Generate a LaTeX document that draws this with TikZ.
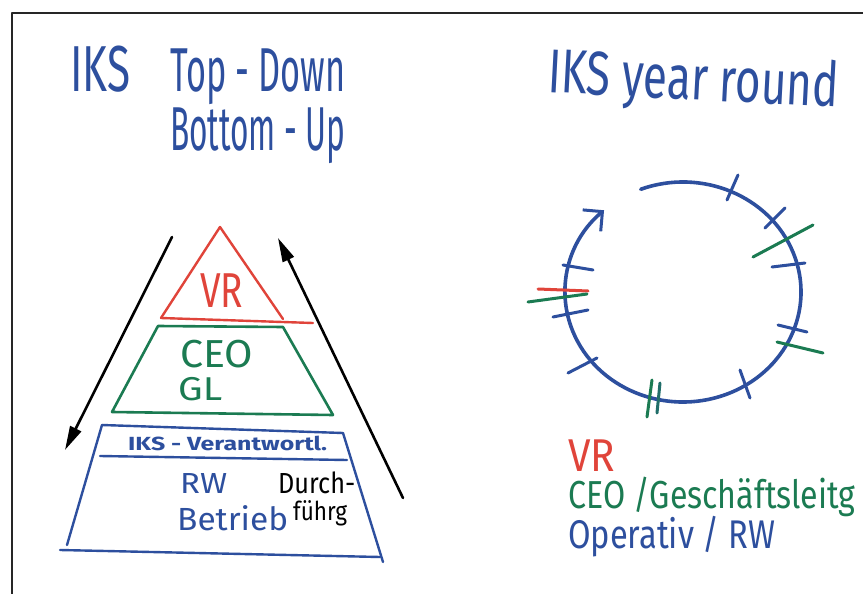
\documentclass[tikz,border=0pt]{standalone}
\usepackage{fontspec}
\setmainfont{Fira Sans}
\usepackage{graphicx}
\usetikzlibrary{arrows.meta}
\definecolor{pblue}{HTML}{2D4F9E}
\definecolor{pred}{HTML}{E0443A}
\definecolor{pgreen}{HTML}{1B7B52}
\newcommand\fitto[2]{\resizebox{#1pt}{\height}{#2}}
\begin{document}
\begin{tikzpicture}[x=1pt,y=-1pt, line cap=round, line join=round,
  txt/.style={inner sep=0pt, anchor=base west},
  fs/.style={font=\fontsize{#1}{#1}\selectfont},
  bpen/.style={pblue, line width=2.4pt},
  rpen/.style={pred, line width=2.4pt},
  gpen/.style={pgreen, line width=2.6pt},
  kpen/.style={black, line width=2.6pt, -{Triangle[length=24pt,width=12pt]}},
  tick/.style={line width=3pt}]
\useasboundingbox (0,0) rectangle (863,594);
\fill[white] (0,0) rectangle (863,594);
\draw[line width=2pt, black!85, line cap=butt] (12,594) -- (12,13) -- (863,13);

% titles
\node[txt, text=pblue, fs=65] (iksL) at (70,92) {\fitto{60}{IKS}};
\node[txt, text=pblue, fs=62] (td) at (170,92) {\fitto{175}{Top - Down}};
\node[txt, text=pblue, fs=62] (bu) at (170,150) {\fitto{175}{Bottom - Up}};
\node[txt, text=pblue, fs=62, rotate=-3] (iksR) at (547,92) {\fitto{291}{IKS year round}};

% pyramid
\coordinate (rA) at (220,227); \coordinate (rL) at (161,318);
\coordinate (rR) at (283,319); \coordinate (rE) at (313,323);
\draw[rpen] (rL) -- (rA) -- (rR);
\draw[rpen] (rL) -- (rE);
\coordinate (gTL) at (158,326); \coordinate (gTR) at (283,327);
\coordinate (gBL) at (112,412); \coordinate (gBR) at (333,415);
\draw[gpen] (gTL) -- (gTR) -- (gBR) -- (gBL) -- cycle;
\coordinate (bTL) at (102,425); \coordinate (bTR) at (343,433);
\coordinate (bML) at (100,456); \coordinate (bMR) at (347,460);
\coordinate (bLL) at (67,545); \coordinate (bLR) at (383,562);
\coordinate (bBL) at (60,550); \coordinate (bBR) at (380,557);
\draw[bpen] (bTL) -- (bTR);
\draw[bpen] (bML) -- (bMR);
\draw[bpen] (bTL) -- (bLL);
\draw[bpen] (bTR) -- (bLR);
\draw[bpen] (bBL) -- (bBR);

\node[txt, text=pred, fs=49] (vr) at (200,307) {\fitto{43}{VR}};
\node[txt, text=pgreen, fs=39] (ceo) at (180,367) {\fitto{73}{CEO}};
\node[txt, text=pgreen, fs=33] (gl) at (178,400) {\fitto{44}{GL}};
\node[txt, text=pblue, fs=19] (iksv) at (128,450) {\fitto{199}{\bfseries IKS - Verantwortl.}};
\node[txt, text=pblue, fs=29] (rw) at (180,493) {\fitto{47}{RW}};
\node[txt, text=pblue, fs=32] (betr) at (177,530) {\fitto{111}{Betrieb}};
\node[txt, text=black, fs=29] (durch) at (278,493) {\fitto{77}{Durch-}};
\node[txt, text=black, fs=26] (fuehr) at (293,520) {\fitto{54}{führg}};

% black arrows
\coordinate (dA) at (172,237); \coordinate (dB) at (65,450);
\coordinate (uA) at (403,498); \coordinate (uB) at (278,238);
\draw[kpen] (dA) -- (dB);
\draw[kpen] (uA) -- (uB);

% year circle
\draw[pblue, line width=3.6pt, -{Straight Barb[length=14pt,width=28pt,line width=3pt]}]
  (683,292) ++(-111:118 and 110) arc[start angle=-111, end angle=228, x radius=118, y radius=110];
\begin{scope}[tick]
\draw[pblue] (738,175) -- (727,200);
\draw[pblue] (785,208) -- (765,228);
\draw[pgreen] (813,225) -- (753,257);
\draw[pblue] (772,267) -- (805,263);
\draw[pblue] (778,325) -- (807,332);
\draw[pgreen] (777,342) -- (823,353);
\draw[pblue] (740,370) -- (750,398);
\draw[pgreen] (652,380) -- (647,417);
\draw[pgreen!70!pblue] (660,383) -- (657,413);
\draw[pblue] (568,373) -- (597,358);
\draw[pblue] (553,317) -- (588,310);
\draw[pred] (538,289) -- (588,291);
\draw[pgreen] (528,302) -- (587,294);
\draw[pblue] (563,265) -- (593,270);
\end{scope}

% legend
\node[txt, text=pred, fs=46] (lvr) at (568,471) {\fitto{47}{VR}};
\node[txt, text=pgreen, fs=39] (lceo) at (568,508) {\fitto{287}{CEO /Geschäftsleitg}};
\node[txt, text=pblue, fs=40] (lop) at (568,548) {\fitto{207}{Operativ / RW}};
\end{tikzpicture}
\end{document}
